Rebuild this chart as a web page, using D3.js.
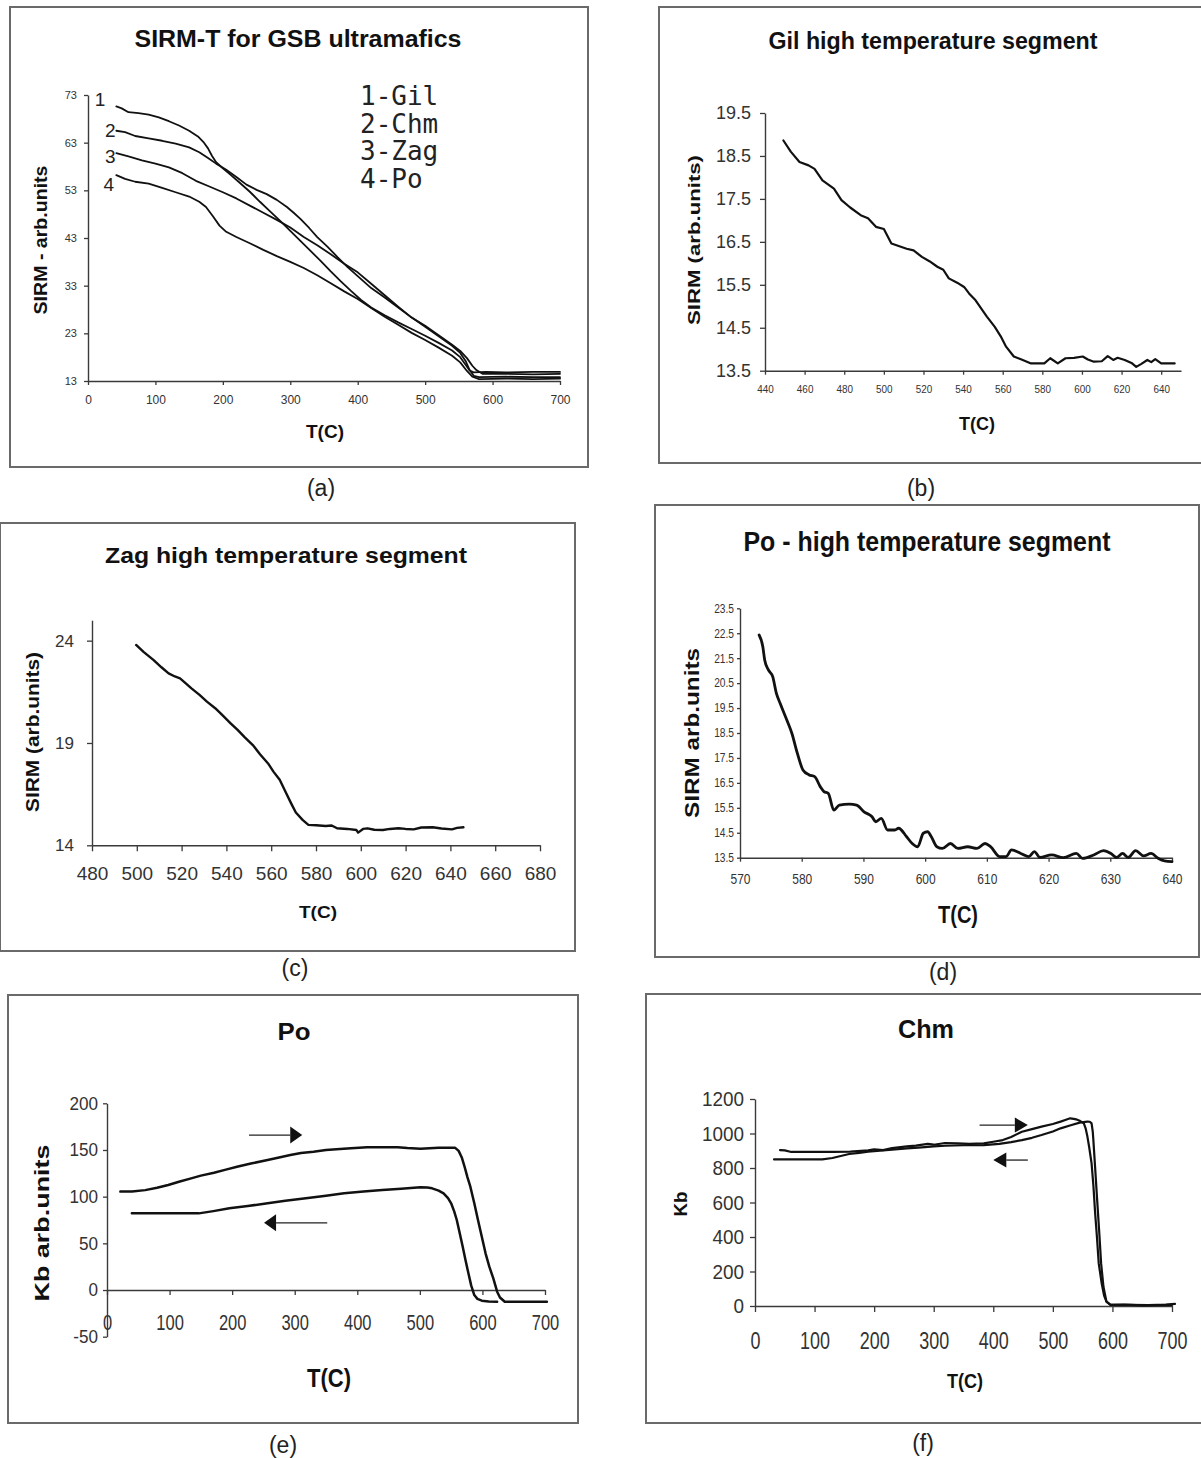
<!DOCTYPE html>
<html>
<head>
<meta charset="utf-8">
<script src="https://cdn.jsdelivr.net/npm/d3@7"></script>
<style>
  body { margin: 0; background: #fff; }
  svg { display: block; font-family: "Liberation Sans", Arial, sans-serif; }
</style>
</head>
<body>
<svg id="fig" width="1201" height="1458"></svg>
<script>
// ---- values: [T (C), value] ----
const sirmGil = [[42,70.6],[50,70.2],[60,69.4],[75,69.2],[90,68.9],[105,68.3],[120,67.5],[135,66.6],[150,65.5],[163,64.3],[172,63.0],[178,61.8],[184,60.2],[190,58.9],[200,57.6],[212,56.2],[225,54.6],[240,52.7],[255,50.6],[270,48.6],[285,46.6],[300,44.5],[315,42.4],[330,40.3],[345,38.2],[360,36.0],[375,33.9],[390,31.9],[405,30.0],[420,28.4],[440,26.8],[460,25.3],[480,23.9],[500,22.5],[520,21.0],[540,19.4],[552,18.0],[560,16.4],[566,15.2],[572,14.8],[590,14.9],[620,14.8],[660,14.9],[700,14.9]];
const sirmChm = [[42,65.5],[55,65.2],[70,64.4],[90,63.9],[110,63.4],[130,62.8],[150,62.0],[165,61.0],[178,59.8],[190,58.6],[205,57.3],[220,55.8],[235,54.2],[250,53.1],[265,52.2],[280,51.0],[295,49.5],[305,48.3],[315,47.0],[328,45.1],[340,43.2],[355,41.2],[370,39.0],[385,36.9],[400,35.0],[420,32.5],[440,30.5],[460,28.4],[480,26.3],[500,24.6],[520,22.6],[540,20.6],[552,19.3],[562,17.8],[570,16.2],[576,15.3],[585,14.5],[620,14.5],[660,14.4],[700,14.5]];
const sirmZag = [[42,60.8],[60,60.1],[80,59.3],[100,58.6],[120,57.8],[140,56.6],[160,55.0],[180,53.8],[200,52.6],[220,51.3],[240,49.8],[260,48.3],[280,46.8],[300,45.2],[320,43.2],[340,41.5],[360,39.6],[380,37.6],[400,35.8],[420,33.4],[440,31.0],[460,28.6],[480,26.3],[500,24.4],[520,22.4],[540,20.4],[552,18.9],[560,17.2],[566,15.3],[572,14.1],[580,13.8],[620,13.9],[660,13.8],[700,13.8]];
const sirmPo = [[42,56.2],[55,55.4],[70,54.8],[90,54.4],[110,53.5],[130,52.6],[150,51.7],[165,50.6],[175,49.5],[185,47.6],[195,45.6],[205,44.3],[220,43.2],[240,41.9],[260,40.5],[280,39.2],[300,38.0],[320,36.7],[340,35.2],[360,33.5],[380,31.8],[400,30.2],[420,28.3],[440,26.5],[460,24.8],[480,23.1],[500,21.6],[520,20.0],[540,18.3],[552,16.9],[562,15.1],[570,13.9],[580,13.4],[620,13.5],[660,13.4],[700,13.5]];
const sirmLegend = ["1-Gil", "2-Chm", "3-Zag", "4-Po"];
const sirmNumbers = ["1", "2", "3", "4"];

const gilHigh = [[449.3,18.86],[453,18.6],[457.4,18.36],[462,18.28],[465,18.2],[469,17.93],[474.8,17.74],[478.6,17.47],[483,17.3],[488.3,17.12],[492,17.05],[496,16.85],[500,16.8],[503.8,16.46],[511.5,16.34],[515,16.3],[519.2,16.15],[523,16.05],[527,15.92],[530,15.85],[532.8,15.65],[537,15.55],[540.5,15.45],[543,15.3],[546.3,15.14],[552,14.76],[556,14.52],[559,14.3],[561.7,14.06],[565.6,13.83],[569.5,13.76],[574.3,13.67],[581,13.67],[584,13.79],[587.8,13.67],[591.7,13.79],[596,13.8],[600.4,13.83],[603,13.76],[606,13.71],[610,13.72],[613,13.84],[615.8,13.75],[618,13.8],[621.6,13.75],[625,13.68],[627.4,13.59],[630,13.66],[633,13.75],[635,13.7],[637,13.77],[640,13.67],[646.8,13.67]];

const zagHigh = [[499.7,23.79],[503,23.45],[507.4,23.06],[511,22.7],[514.2,22.4],[517,22.25],[519.3,22.16],[522,21.9],[524.4,21.67],[528,21.35],[531.3,21.02],[535,20.7],[538.1,20.37],[542,19.95],[545,19.64],[548,19.3],[551.8,18.9],[555,18.45],[558.6,18.0],[561,17.6],[563.8,17.2],[566,16.7],[568.9,16.05],[571,15.6],[574,15.24],[576.6,15.0],[580,14.98],[584.3,14.94],[587,14.97],[589.4,14.83],[594,14.8],[598,14.75],[598.8,14.62],[601,14.8],[603,14.83],[606,14.76],[609.9,14.75],[613,14.8],[616.8,14.83],[620,14.8],[623.6,14.78],[627,14.87],[632.1,14.88],[636,14.82],[640.7,14.78],[643,14.85],[645.8,14.88]];

const poHigh = [[573.1,22.43],[573.7,21.96],[574,21.43],[574.6,21.03],[575.3,20.76],[575.9,20.09],[576.5,19.69],[577.7,18.95],[578.4,18.49],[579.3,17.68],[580.2,17.02],[581.2,16.82],[582.1,16.75],[583,16.35],[583.6,16.15],[584.3,16.08],[585.2,15.41],[586.1,15.61],[587.7,15.65],[588.9,15.61],[590.1,15.34],[591.4,15.14],[592,14.94],[592.9,15.08],[593.9,14.61],[595.1,14.61],[595.7,14.68],[597,14.34],[597.9,14.07],[598.8,13.94],[599.7,14.48],[600.4,14.54],[601,14.34],[601.9,13.94],[602.8,13.87],[604.1,14.07],[605.3,13.87],[606.9,13.94],[608.4,13.87],[609.7,14.07],[610.6,13.94],[612.1,13.54],[613.1,13.54],[614,13.81],[615.5,13.67],[616.8,13.54],[617.7,13.74],[618.6,13.51],[620.5,13.61],[622.4,13.5],[624.5,13.67],[625.5,13.47],[627.3,13.61],[628.9,13.78],[630.1,13.67],[631,13.51],[632,13.67],[632.9,13.51],[634.1,13.78],[635.4,13.57],[636.6,13.67],[637.8,13.47],[638.8,13.37],[640,13.34]];

const poHeating = [[21.4,105.4],[40,105.6],[61,107],[80,109.5],[97.8,112.5],[115,116],[134.5,119.6],[150,122.5],[171,125.7],[190,129],[207.8,132],[230,135.5],[256.7,139.3],[275,142],[293,144.6],[310,146.8],[330,148.2],[350,150],[366.7,150.7],[390,151.8],[415.6,152.9],[440,153],[464.5,152.9],[480,152],[501,151.4],[530,152.4],[556,152.5],[562,149],[567,142],[571.5,132],[576,121],[580.7,110.7],[587,93],[592.9,75],[599,57],[605,39.3],[611,25],[617.4,12.5],[623.5,-1.8],[628,-8],[635.7,-12.5],[670,-12.5],[703,-12.5]];
const poCooling = [[39.7,82.1],[80,82.1],[120,82.1],[146.7,82.1],[170,84.5],[195.6,87.5],[225,90],[256.7,92.9],[285,95.5],[317.8,98.2],[350,101],[379,103.6],[410,105.4],[440,107.1],[470,108.6],[501,110],[512,109.8],[519.6,108.9],[530,106.5],[537.9,103.6],[545,98.5],[550,92.9],[555,84],[559,75],[564,60],[568.5,46.4],[573,32],[577.6,17.9],[582,5],[587,-5.4],[592,-9.5],[599,-11.4],[610,-12.3],[623.5,-12.5]];

const chmHeating = [[42,904],[50,902],[61,893],[80,893],[100,893],[130,893],[160,895],[190,902],[200,908],[215,904],[230,915],[255,925],[270,930],[290,940],[300,935],[319,945],[340,943],[360,940],[384,943],[400,952],[416,962],[430,980],[448,1010],[465,1025],[481,1040],[500,1055],[513,1069],[522,1080],[529,1088],[535,1085],[539,1082],[546,1072],[552,1059],[555,1030],[558,982],[561,920],[565,827],[568,700],[571,537],[574,400],[577,247],[582,130],[586,60],[590,25],[597,6],[620,8],[650,4],[680,5],[700,6]];
const chmCooling = [[32,850],[60,850],[90,850],[113,850],[130,858],[158,881],[175,888],[190,895],[220,903],[255,914],[280,920],[300,925],[319,929],[350,932],[384,933],[410,940],[430,950],[448,962],[465,975],[481,991],[500,1012],[513,1030],[530,1048],[545,1063],[558,1069],[562,1068],[565,1059],[567,1010],[568,962],[571,800],[574,634],[578,420],[581,247],[585,110],[590,25],[596,8],[603,6],[630,6],[660,5],[690,8],[705,12]];

// tick values
const tempTicks0to700 = [0, 100, 200, 300, 400, 500, 600, 700];
const sirmTicks = [13, 23, 33, 43, 53, 63, 73];
const gilTTicks = d3.range(440, 641, 20);
const gilYTicks = [13.5, 14.5, 15.5, 16.5, 17.5, 18.5, 19.5];
const zagTTicks = d3.range(480, 681, 20);
const zagYTicks = [14, 19, 24];
const poTTicks = d3.range(570, 641, 10);
const poYTicks = d3.range(13.5, 23.6, 1);
const kbPoTicks = [-50, 0, 50, 100, 150, 200];
const kbChmTicks = [0, 200, 400, 600, 800, 1000, 1200];

const svg = d3.select("#fig");
svg.append("rect").attr("width", 1201).attr("height", 1458).attr("fill", "#fff");

// squeeze/stretch text horizontally to a factor of its natural width
function squeeze(sel, k) {
    sel.each(function () {
        const w = this.getComputedTextLength();
        d3.select(this).attr("textLength", w * k).attr("lengthAdjust", "spacingAndGlyphs");
    });
}

const plain = d => String(d);   // keeps "-50" with a hyphen like the source

function drawPanel(p) {
    const g = svg.append("g");
    const [fx0, fy0, fx1, fy1] = p.frame;
    g.append("rect")
        .attr("x", fx0).attr("y", fy0)
        .attr("width", fx1 - fx0).attr("height", fy1 - fy0)
        .attr("fill", "none").attr("stroke", "#6a6a6a").attr("stroke-width", 2);

    const x = d3.scaleLinear().domain(p.xDomain).range(p.xRange);
    const y = d3.scaleLinear().domain(p.yDomain).range(p.yRange);

    // title
    g.append("text")
        .attr("x", p.title.x).attr("y", p.title.y)
        .attr("text-anchor", "middle")
        .attr("font-size", p.title.size).attr("font-weight", "bold").attr("fill", "#111")
        .attr("textLength", p.title.width).attr("lengthAdjust", "spacingAndGlyphs")
        .text(p.title.text);

    // axes
    const xa = g.append("g")
        .attr("transform", `translate(0,${y(p.xAxisAt)})`)
        .call(d3.axisBottom(x).tickValues(p.xTicks).tickFormat(plain)
            .tickSize(p.xt.len).tickSizeOuter(0).tickPadding(p.xt.pad));
    const ya = g.append("g")
        .attr("transform", `translate(${x(p.yAxisAt)},0)`)
        .call(d3.axisLeft(y).tickValues(p.yTicks).tickFormat(p.yFormat)
            .tickSize(p.yt.len).tickSizeOuter(0).tickPadding(p.yt.pad));
    [xa, ya].forEach(a => {
        a.attr("font-family", null);
        a.select(".domain").attr("stroke", "#3a3a3a").attr("stroke-width", 1.4);
        a.selectAll(".tick line").attr("stroke", "#3a3a3a").attr("stroke-width", 1.3);
        a.selectAll("text").attr("fill", "#333");
    });
    xa.selectAll("text").attr("font-size", p.xt.size);
    ya.selectAll("text").attr("font-size", p.yt.size);
    squeeze(xa.selectAll("text"), p.xt.k);
    squeeze(ya.selectAll("text"), p.yt.k);

    // axis titles
    g.append("text")
        .attr("x", p.xLabel.x).attr("y", p.xLabel.y)
        .attr("text-anchor", "middle")
        .attr("font-size", p.xLabel.size).attr("font-weight", "bold").attr("fill", "#111")
        .attr("textLength", p.xLabel.width).attr("lengthAdjust", "spacingAndGlyphs")
        .text(p.xLabel.text);
    g.append("text")
        .attr("transform", `translate(${p.yLabel.x},${p.yLabel.y}) rotate(-90)`)
        .attr("text-anchor", "middle").attr("dy", "0.35em")
        .attr("font-size", p.yLabel.size).attr("font-weight", "bold").attr("fill", "#111")
        .attr("textLength", p.yLabel.length).attr("lengthAdjust", "spacingAndGlyphs")
        .text(p.yLabel.text);

    // curves
    const line = d3.line().x(d => x(d[0])).y(d => y(d[1])).curve(p.curve || d3.curveLinear);
    p.series.forEach(s => {
        g.append("path")
            .attr("d", line(s))
            .attr("fill", "none").attr("stroke", "#111")
            .attr("stroke-width", p.lineWidth)
            .attr("stroke-linejoin", "round").attr("stroke-linecap", "round");
    });

    // arrows (heating / cooling)
    (p.arrows || []).forEach(a => {
        const x0 = x(a.from), x1 = x(a.to), yy = y(a.at);
        const dir = Math.sign(x1 - x0);
        g.append("line")
            .attr("x1", x0).attr("x2", x1 - dir * a.head)
            .attr("y1", yy).attr("y2", yy)
            .attr("stroke", "#222").attr("stroke-width", 1.3);
        g.append("path")
            .attr("d", `M${x1},${yy} L${x1 - dir * a.head},${yy - a.half} L${x1 - dir * a.head},${yy + a.half} Z`)
            .attr("fill", "#111");
    });

    // panel tag
    g.append("text")
        .attr("x", p.tag.x).attr("y", p.tag.y)
        .attr("text-anchor", "middle")
        .attr("font-size", 23).attr("fill", "#222")
        .text(p.tag.text);

    return { g, x, y };
}

// (a)
const pa = drawPanel({
    frame: [10, 7, 588, 467],
    title: { text: "SIRM-T for GSB ultramafics", x: 298, y: 47, size: 23, width: 327 },
    xDomain: [0, 700], xRange: [88, 560],
    yDomain: [13, 73], yRange: [381, 95],
    xAxisAt: 13, yAxisAt: 0,
    xTicks: tempTicks0to700, yTicks: sirmTicks, yFormat: plain,
    xt: { size: 12, k: 1, len: 4, pad: 10 },
    yt: { size: 11, k: 1, len: 4, pad: 7 },
    xLabel: { text: "T(C)", x: 325, y: 438, size: 19, width: 38 },
    yLabel: { text: "SIRM - arb.units", x: 40, y: 240, size: 19, length: 149 },
    series: [sirmGil, sirmChm, sirmZag, sirmPo],
    lineWidth: 1.8,
    tag: { text: "(a)", x: 321, y: 496 }
});
// curve numbers, placed in data units just left of each curve start
const numberAt = [[18, 72.0], [33, 65.6], [33, 60.2], [31, 54.2]];
pa.g.selectAll(".num").data(sirmNumbers).enter().append("text")
    .attr("x", (d, i) => pa.x(numberAt[i][0]))
    .attr("y", (d, i) => pa.y(numberAt[i][1]))
    .attr("dy", "0.35em").attr("text-anchor", "middle")
    .attr("font-size", 19).attr("fill", "#222")
    .text(d => d);
pa.g.selectAll(".leg").data(sirmLegend).enter().append("text")
    .attr("x", 360).attr("y", (d, i) => 105 + i * 27.7)
    .style("font-family", "'DejaVu Sans Mono', 'Liberation Mono', monospace")
    .attr("font-size", 26).attr("fill", "#222")
    .text(d => d);

// (b)
drawPanel({
    frame: [659, 7, 1210, 463],
    title: { text: "Gil high temperature segment", x: 933, y: 49, size: 23, width: 329 },
    xDomain: [440, 650], xRange: [765, 1181],
    yDomain: [13.5, 19.5], yRange: [370.7, 113],
    xAxisAt: 13.5, yAxisAt: 440,
    xTicks: gilTTicks, yTicks: gilYTicks, yFormat: d3.format(".1f"),
    xt: { size: 11, k: 0.9, len: 4, pad: 11 },
    yt: { size: 18, k: 1, len: 5, pad: 9 },
    xLabel: { text: "T(C)", x: 977, y: 430, size: 19, width: 36 },
    yLabel: { text: "SIRM  (arb.units)", x: 694, y: 240, size: 17, length: 170 },
    series: [gilHigh],
    lineWidth: 2.2,
    tag: { text: "(b)", x: 921, y: 496 }
});

// (c)
drawPanel({
    frame: [0, 523, 575, 951],
    title: { text: "Zag high temperature segment", x: 286, y: 563, size: 22, width: 362 },
    xDomain: [480, 680], xRange: [92, 540],
    yDomain: [14, 25], yRange: [845.3, 620.2],
    xAxisAt: 14, yAxisAt: 480,
    xTicks: zagTTicks, yTicks: zagYTicks, yFormat: plain,
    xt: { size: 19, k: 1, len: 6, pad: 15 },
    yt: { size: 17, k: 1, len: 5, pad: 13 },
    xLabel: { text: "T(C)", x: 318, y: 918, size: 17, width: 38 },
    yLabel: { text: "SIRM (arb.units)", x: 33, y: 732, size: 18, length: 160 },
    series: [zagHigh],
    lineWidth: 2.4,
    tag: { text: "(c)", x: 295, y: 976 }
});

// (d)
drawPanel({
    frame: [655, 505, 1199, 957],
    title: { text: "Po - high temperature segment", x: 927, y: 551, size: 27, width: 367 },
    xDomain: [570, 640], xRange: [740, 1172],
    yDomain: [13.5, 23.5], yRange: [857.7, 608.3],
    xAxisAt: 13.5, yAxisAt: 570,
    xTicks: poTTicks, yTicks: poYTicks, yFormat: d3.format(".1f"),
    xt: { size: 15, k: 0.8, len: 4, pad: 12 },
    yt: { size: 12, k: 0.85, len: 3, pad: 3 },
    xLabel: { text: "T(C)", x: 958, y: 923, size: 23, width: 40 },
    yLabel: { text: "SIRM  arb.units", x: 692, y: 733, size: 21, length: 170 },
    series: [poHigh],
    curve: d3.curveMonotoneX,
    lineWidth: 2.8,
    tag: { text: "(d)", x: 943, y: 980 }
});

// (e)
drawPanel({
    frame: [8, 995, 578, 1423],
    title: { text: "Po", x: 294, y: 1040, size: 24, width: 33 },
    xDomain: [0, 700], xRange: [107, 545],
    yDomain: [-50, 200], yRange: [1336.7, 1103.3],
    xAxisAt: 0, yAxisAt: 0,
    xTicks: tempTicks0to700, yTicks: kbPoTicks, yFormat: plain,
    xt: { size: 22, k: 0.75, len: 5, pad: 19 },
    yt: { size: 18, k: 0.95, len: 4, pad: 5 },
    xLabel: { text: "T(C)", x: 329, y: 1387, size: 25, width: 44 },
    yLabel: { text: "Kb  arb.units", x: 42, y: 1223, size: 20, length: 157 },
    series: [poHeating, poCooling],
    lineWidth: 2.5,
    arrows: [
        { from: 227, to: 312, at: 166, head: 12, half: 8.5 },
        { from: 352, to: 251, at: 72, head: 12, half: 8.5 }
    ],
    tag: { text: "(e)", x: 283, y: 1453 }
});

// (f)
drawPanel({
    frame: [646, 994, 1210, 1423],
    title: { text: "Chm", x: 926, y: 1038, size: 25, width: 56 },
    xDomain: [0, 700], xRange: [755, 1172],
    yDomain: [0, 1200], yRange: [1306, 1099],
    xAxisAt: 0, yAxisAt: 0,
    xTicks: tempTicks0to700, yTicks: kbChmTicks, yFormat: plain,
    xt: { size: 23, k: 0.78, len: 6, pad: 21 },
    yt: { size: 21, k: 0.9, len: 5, pad: 6 },
    xLabel: { text: "T(C)", x: 965, y: 1388, size: 21, width: 36 },
    yLabel: { text: "Kb", x: 680, y: 1204, size: 19, length: 25 },
    series: [chmHeating, chmCooling],
    lineWidth: 2.2,
    arrows: [
        { from: 377, to: 458, at: 1049, head: 13, half: 7.5 },
        { from: 458, to: 400, at: 846, head: 13, half: 7.5 }
    ],
    tag: { text: "(f)", x: 923, y: 1451 }
});
</script>
</body>
</html>
